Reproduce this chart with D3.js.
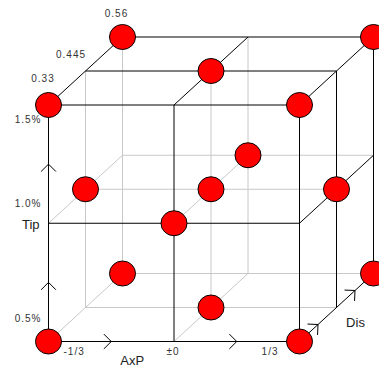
<!DOCTYPE html>
<html>
<head>
<meta charset="utf-8">
<script src="https://cdn.jsdelivr.net/npm/d3@7"></script>
<style>
  body { margin: 0; background: #fff; }
  svg { display: block; font-family: "Liberation Sans", Arial, sans-serif; }
</style>
</head>
<body>
<svg id="cube"></svg>
<script>
// factor levels
const axpLevels = [-1/3, 0, 1/3]
const axpLabels = ["-1/3", "\u00b10", "1/3"]
const tipLevels = [0.5, 1.0, 1.5]
const tipLabels = ["0.5%", "1.0%", "1.5%"]
const disLevels = [0.33, 0.445, 0.56]
const disLabels = ["0.33", "0.445", "0.56"]

// design runs (face centred CCD)
const runAxp = [-1/3, 1/3, -1/3, 1/3, -1/3, 1/3, -1/3, 1/3, -1/3, 1/3, 0, 0, 0, 0, 0]
const runTip = [0.5, 0.5, 1.5, 1.5, 0.5, 0.5, 1.5, 1.5, 1.0, 1.0, 0.5, 1.5, 1.0, 1.0, 1.0]
const runDis = [0.33, 0.33, 0.33, 0.33, 0.56, 0.56, 0.56, 0.56, 0.445, 0.445, 0.445, 0.445, 0.33, 0.56, 0.445]

const width = 379, height = 369
const depth = {dx: 74, dy: -68}

const svg = d3.select("#cube").attr("width", width).attr("height", height)

const xScale = d3.scaleLinear().domain(d3.extent(axpLevels)).range([48.5, 299.5])
const yScale = d3.scaleLinear().domain(d3.extent(tipLevels)).range([341.5, 105])
const zScale = d3.scaleLinear().domain(d3.extent(disLevels)).range([0, 1])

const proj = (a, t, d) => [xScale(a) + zScale(d) * depth.dx, yScale(t) + zScale(d) * depth.dy]

// build every grid line of the 3x3x3 lattice
let lines = []
const aMin = axpLevels[0], aMax = axpLevels[2]
const tMin = tipLevels[0], tMax = tipLevels[2]
const dMin = disLevels[0], dMax = disLevels[2]
const visible = (a, t, d) => d === dMin || t === tMax || a === aMax
tipLevels.forEach(t => disLevels.forEach(d => {
    lines.push({p1: proj(aMin, t, d), p2: proj(aMax, t, d), front: visible(null, t, d)})
}))
axpLevels.forEach(a => disLevels.forEach(d => {
    lines.push({p1: proj(a, tMin, d), p2: proj(a, tMax, d), front: visible(a, null, d)})
}))
axpLevels.forEach(a => tipLevels.forEach(t => {
    lines.push({p1: proj(a, t, dMin), p2: proj(a, t, dMax), front: visible(a, t, null)})
}))
lines.sort((a, b) => a.front - b.front)

svg.append("g").selectAll("line")
    .data(lines)
    .join("line")
    .attr("x1", d => d.p1[0]).attr("y1", d => d.p1[1])
    .attr("x2", d => d.p2[0]).attr("y2", d => d.p2[1])
    .attr("stroke", d => d.front ? "#000" : "#c8c8c8")
    .attr("stroke-width", 1)

// chevrons on the three axes at 1/4 and 3/4
const axes = [
    {from: proj(aMin, tMin, dMin), to: proj(aMax, tMin, dMin)},
    {from: proj(aMin, tMin, dMin), to: proj(aMin, tMax, dMin)},
    {from: proj(aMax, tMin, dMin), to: proj(aMax, tMin, dMax)}
]
let chevrons = []
axes.forEach(ax => {
    [0.25, 0.75].forEach(f => {
        let x = ax.from[0] + f * (ax.to[0] - ax.from[0])
        let y = ax.from[1] + f * (ax.to[1] - ax.from[1])
        let ang = Math.atan2(ax.to[1] - ax.from[1], ax.to[0] - ax.from[0]) + Math.PI
        let len = 10.5
        let a1 = ang - Math.PI / 4, a2 = ang + Math.PI / 4
        chevrons.push([[x + len * Math.cos(a1), y + len * Math.sin(a1)], [x, y], [x + len * Math.cos(a2), y + len * Math.sin(a2)]])
    })
})
svg.append("g").selectAll("path")
    .data(chevrons)
    .join("path")
    .attr("d", d => d3.line()(d))
    .attr("fill", "none")
    .attr("stroke", "#000")
    .attr("stroke-width", 1)

// design points
const runs = runAxp.map((a, i) => proj(a, runTip[i], runDis[i]))
svg.append("g").selectAll("ellipse")
    .data(runs)
    .join("ellipse")
    .attr("cx", d => d[0]).attr("cy", d => d[1])
    .attr("rx", 13).attr("ry", 12.5)
    .attr("fill", "#ff0000")
    .attr("stroke", "#000")
    .attr("stroke-width", 1)

// tick labels
const tickStyle = sel => sel.attr("font-size", 10).attr("letter-spacing", 1).attr("fill", "#333")

const axpOff = [{dx: 15, anchor: "start"}, {dx: -1, anchor: "middle"}, {dx: -21, anchor: "end"}]
svg.append("g").selectAll("text")
    .data(axpLevels)
    .join("text")
    .text((d, i) => axpLabels[i])
    .attr("x", (d, i) => xScale(d) + axpOff[i].dx)
    .attr("y", yScale(tMin) + 13.5)
    .attr("text-anchor", (d, i) => axpOff[i].anchor)
    .call(tickStyle)

const tipOff = [-20, -16, 18]
svg.append("g").selectAll("text")
    .data(tipLevels)
    .join("text")
    .text((d, i) => tipLabels[i])
    .attr("x", xScale(aMin) - 7)
    .attr("y", (d, i) => yScale(d) + tipOff[i])
    .attr("text-anchor", "end")
    .call(tickStyle)

const disOff = [{dx: -5.5, dy: -23}, {dx: -14.5, dy: -13}, {dx: -6, dy: -20.5}]
svg.append("g").selectAll("text")
    .data(disLevels)
    .join("text")
    .text((d, i) => disLabels[i])
    .attr("x", (d, i) => proj(aMin, tMax, d)[0] + disOff[i].dx)
    .attr("y", (d, i) => proj(aMin, tMax, d)[1] + disOff[i].dy)
    .attr("text-anchor", "middle")
    .call(tickStyle)

// axis titles
const titles = svg.append("g").attr("font-size", 13).attr("fill", "#222")
titles.append("text").text("Tip")
    .attr("x", xScale(aMin) - 9).attr("y", yScale(1.0) + 6)
    .attr("text-anchor", "end")
titles.append("text").text("AxP")
    .attr("x", xScale(-1/6) + 21).attr("y", yScale(tMin) + 23)
    .attr("text-anchor", "middle")
let disPos = proj(aMax, tMin, 0.445)
titles.append("text").text("Dis")
    .attr("x", disPos[0] + 19).attr("y", disPos[1] + 19)
    .attr("text-anchor", "middle")
</script>
</body>
</html>
